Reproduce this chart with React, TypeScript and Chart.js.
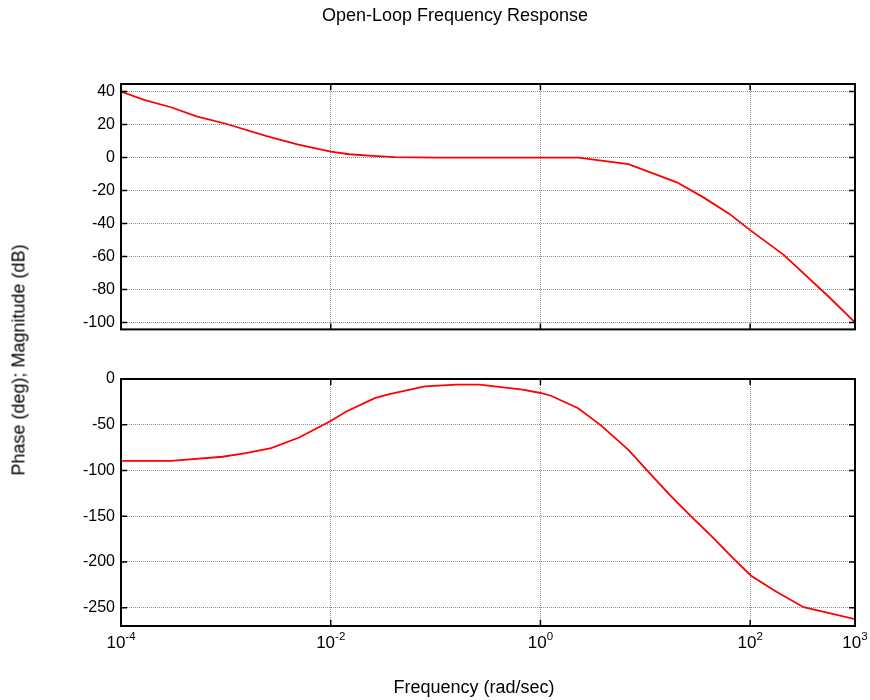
import React, { useEffect, useRef } from 'react';
import { Chart, registerables } from 'chart.js';

Chart.register(...registerables);

const FONT = "'Liberation Sans', Arial, Helvetica, sans-serif";

const TITLE = 'Open-Loop Frequency Response';
const X_LABEL = 'Frequency (rad/sec)';
const Y_LABEL = 'Phase (deg); Magnitude (dB)';

// Magnitude (dB) vs frequency (rad/sec)
const MAG_FREQ = [1e-4, 1.66e-4, 3.0e-4, 5.25e-4, 1e-3, 2.45e-3, 4.8e-3, 1e-2, 0.015, 0.025, 0.041, 0.1, 1, 2.3, 6.9, 20, 35.5, 63, 100, 209, 575, 1000];
const MAG_DB = [40, 35, 30.5, 25, 20.5, 13, 8, 3.6, 2.0, 1.0, 0.2, 0, 0, 0, -4, -15, -24, -34, -44, -59, -85, -100];

// Phase (deg) vs frequency (rad/sec)
const PHASE_FREQ = [1e-4, 3.0e-4, 9.3e-4, 1.55e-3, 2.7e-3, 5e-3, 9.8e-3, 0.0141, 0.0263, 0.0363, 0.079, 0.158, 0.263, 0.676, 1, 1.26, 2.29, 3.8, 6.9, 11, 17, 27.5, 44.7, 69, 102, 178, 324, 1000];
const PHASE_DEG = [-89.5, -89.5, -85, -81, -75.5, -64, -46.5, -35.5, -21, -16.5, -8, -6.2, -6.2, -11.7, -15.3, -18.3, -32, -51, -77.5, -103, -126.5, -150.5, -174, -196, -215, -232.5, -249.5, -262.5];

const X_MIN = 1e-4;
const X_MAX = 1e3;
const X_TICKS = [1e-4, 1e-2, 1, 1e2, 1e3];
const X_TICK_BASE = '10';
const X_TICK_EXPONENTS = ['-4', '-2', '0', '2', '3'];

const MAG_TICKS = [40, 20, 0, -20, -40, -60, -80, -100];
const MAG_MIN = -104.2;
const MAG_MAX = 44.6;

const PHASE_TICKS = [0, -50, -100, -150, -200, -250];
const PHASE_MIN = -270;
const PHASE_MAX = 0;

const GRID_COLOR = '#8f8f8f';
const LINE_COLOR = '#ff0000';

const framePlugin = {
  id: 'frameBox',
  afterDraw(chart: any) {
    const { ctx, chartArea: a, scales } = chart;
    const tl = 6;
    ctx.save();
    ctx.strokeStyle = '#000';
    ctx.lineWidth = 1.5;
    ctx.beginPath();
    for (const v of X_TICKS) {
      const px = scales.x.getPixelForValue(v);
      ctx.moveTo(px, a.bottom);
      ctx.lineTo(px, a.bottom - tl);
      ctx.moveTo(px, a.top);
      ctx.lineTo(px, a.top + tl);
    }
    for (const t of scales.y.ticks) {
      const py = scales.y.getPixelForValue(t.value);
      ctx.moveTo(a.left, py);
      ctx.lineTo(a.left + tl, py);
      ctx.moveTo(a.right, py);
      ctx.lineTo(a.right - tl, py);
    }
    ctx.stroke();
    ctx.lineWidth = 2;
    ctx.strokeRect(a.left, a.top, a.right - a.left, a.bottom - a.top);
    ctx.restore();
  },
};

// Power-of-ten tick labels ("10" with a raised exponent) under the bottom axis
const powerTickPlugin = {
  id: 'powerTicks',
  afterDraw(chart: any) {
    const { ctx, chartArea: a, scales } = chart;
    const baseFont = `17px ${FONT}`;
    const expFont = `11.5px ${FONT}`;
    const baseY = a.bottom + 22;
    const expY = baseY - 8;
    ctx.save();
    ctx.fillStyle = '#000';
    ctx.textBaseline = 'alphabetic';
    ctx.textAlign = 'left';
    X_TICKS.forEach((v, i) => {
      const px = scales.x.getPixelForValue(v);
      ctx.font = baseFont;
      const wb = ctx.measureText(X_TICK_BASE).width;
      ctx.font = expFont;
      const we = ctx.measureText(X_TICK_EXPONENTS[i]).width;
      const x0 = px - (wb + we) / 2;
      ctx.font = baseFont;
      ctx.fillText(X_TICK_BASE, x0, baseY);
      ctx.font = expFont;
      ctx.fillText(X_TICK_EXPONENTS[i], x0 + wb, expY);
    });
    ctx.restore();
  },
};

function makeConfig(kind: 'mag' | 'phase'): any {
  const isMag = kind === 'mag';
  const xs = isMag ? MAG_FREQ : PHASE_FREQ;
  const ys = isMag ? MAG_DB : PHASE_DEG;
  const yTicks = isMag ? MAG_TICKS : PHASE_TICKS;
  return {
    type: 'line',
    data: {
      datasets: [
        {
          data: xs.map((x, i) => ({ x, y: ys[i] })),
          borderColor: LINE_COLOR,
          borderWidth: 1.8,
          pointRadius: 0,
          fill: false,
          tension: 0,
          yAxisID: 'y',
        },
      ],
    },
    options: {
      animation: false,
      responsive: false,
      events: [],
      layout: {
        padding: isMag
          ? { left: 55, right: 15, top: 0, bottom: 12 }
          : { left: 78, right: 0, top: 34, bottom: 0 },
      },
      plugins: {
        legend: { display: false },
        tooltip: { enabled: false },
        title: {
          display: true,
          text: isMag ? TITLE : X_LABEL,
          position: isMag ? 'top' : 'bottom',
          color: '#000',
          font: { family: FONT, size: 18, weight: 'normal' },
          padding: isMag ? { top: 5.2, bottom: 57.2 } : { top: 4, bottom: 1.2 },
        },
      },
      scales: {
        x: {
          type: 'logarithmic',
          min: X_MIN,
          max: X_MAX,
          afterBuildTicks: (s: any) => {
            s.ticks = X_TICKS.map((v) => ({ value: v }));
          },
          afterFit: (s: any) => {
            s.height = isMag ? 0 : 47.2;
            s.paddingLeft = 0;
            s.paddingRight = 0;
          },
          ticks: { display: false },
          grid: { color: GRID_COLOR, lineWidth: 1, drawTicks: false },
          border: { display: false, dash: [1, 1] },
        },
        y: {
          type: 'linear',
          position: 'left',
          min: isMag ? MAG_MIN : PHASE_MIN,
          max: isMag ? MAG_MAX : PHASE_MAX,
          afterBuildTicks: (s: any) => {
            s.ticks = yTicks.map((v) => ({ value: v }));
          },
          afterFit: (s: any) => {
            s.width = isMag ? 66 : 43;
          },
          ticks: {
            padding: 6,
            color: '#000',
            font: { family: FONT, size: 16 },
          },
          grid: { color: GRID_COLOR, lineWidth: 1, drawTicks: false },
          border: { display: false, dash: [1, 1] },
        },
        ...(isMag
          ? {}
          : {
              yRight: {
                type: 'linear',
                position: 'right',
                min: 0,
                max: 1,
                ticks: { display: false },
                grid: { display: false, drawTicks: false },
                border: { display: false },
                afterFit: (s: any) => {
                  s.width = 15;
                },
              },
            }),
      },
    },
    plugins: isMag ? [framePlugin] : [framePlugin, powerTickPlugin],
  };
}

function Panel({ kind, top, height }: { kind: 'mag' | 'phase'; top: number; height: number }) {
  const ref = useRef<HTMLCanvasElement | null>(null);
  useEffect(() => {
    if (!ref.current) return;
    const chart = new Chart(ref.current, makeConfig(kind));
    return () => chart.destroy();
  }, [kind]);
  return (
    <canvas
      ref={ref}
      width={870}
      height={height}
      style={{ position: 'absolute', left: 0, top, width: 870, height }}
    />
  );
}

export default function App() {
  return (
    <div
      style={{
        position: 'fixed',
        left: 0,
        top: 0,
        width: 870,
        height: 700,
        background: '#fff',
        overflow: 'hidden',
      }}
    >
      <Panel kind="mag" top={0} height={345} />
      <Panel kind="phase" top={345} height={355} />
      <div
        style={{
          position: 'absolute',
          left: 19,
          top: 360,
          transform: 'translate(-50%, -50%) rotate(-90deg)',
          whiteSpace: 'nowrap',
          fontFamily: FONT,
          fontSize: 18,
          color: '#000',
        }}
      >
        {Y_LABEL}
      </div>
    </div>
  );
}
